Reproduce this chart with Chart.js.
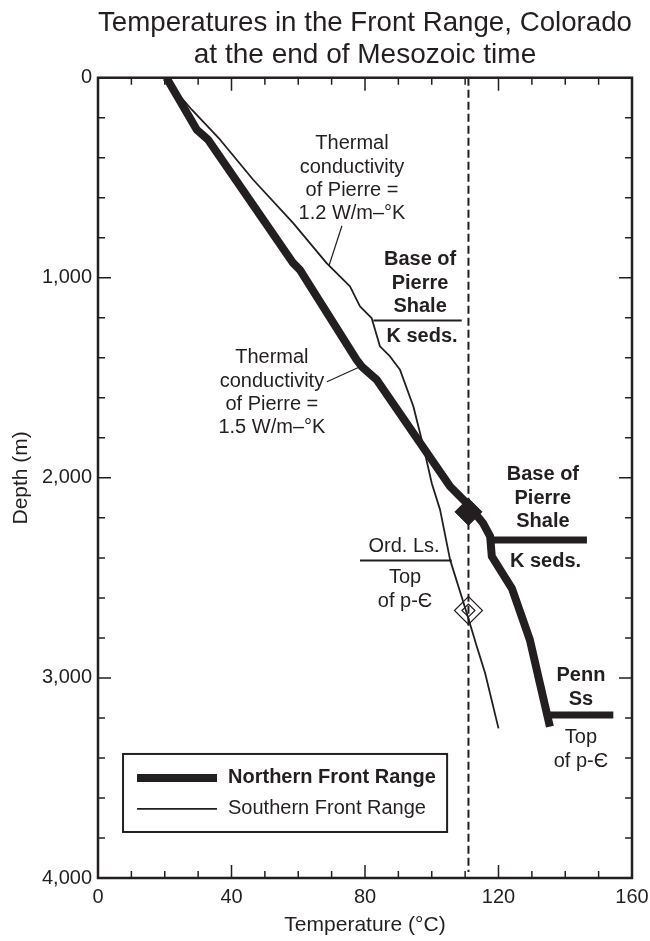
<!DOCTYPE html>
<html>
<head>
<meta charset="utf-8">
<title>Temperatures in the Front Range, Colorado</title>
<script src="https://cdn.jsdelivr.net/npm/chart.js@4.4.1/dist/chart.umd.min.js"></script>
<style>
  html, body { margin: 0; padding: 0; background: #fff; }
</style>
</head>
<body>
<canvas id="grafico" width="650" height="941"></canvas>
<script>
// temperature (°C) against depth (m) for both profiles
const northTemp  = [20.5, 29.6, 33, 58.5, 60.5, 77.5, 79, 83.5, 105.5, 110.5, 115.4, 117.5, 118, 124, 129.4, 132.4, 135.4];
const northDepth = [0, 260, 310, 927, 960, 1410, 1443, 1510, 2043, 2127, 2227, 2293, 2393, 2552, 2810, 3027, 3243];
const southTemp  = [20.5, 25, 28.1, 36.6, 46.5, 58.5, 68.5, 75.5, 78.5, 82, 84.5, 87.5, 90.5, 94.5, 97.5, 100, 102.5, 105.5, 110.5, 113.5, 116, 120];
const southDepth = [0, 100, 160, 310, 510, 727, 927, 1043, 1143, 1202, 1343, 1393, 1460, 1643, 1843, 2027, 2160, 2410, 2677, 2843, 2977, 3252];

// formation contacts: [depth, temp from, temp to]
const northShaleBase = [2310, 117, 146.5];
const northPennTop   = [3185, 135.4, 154.4];
const southShaleBase = [1213, 82.5, 109];
const southOrdBase   = [2413, 78.5, 106];

// isotherm and the two markers on it
const isotherm = 111;
const filledMarkerDepth = 2170;
const openMarkerDepth = 2663;

const xLabelled = [0, 40, 80, 120, 160];
const yLabelled = [0, 1000, 2000, 3000, 4000];

const FONTE = '"Liberation Sans", Arial, Helvetica, sans-serif';
const TINTA = '#231f20';

const pontos = (ts, ds) => ts.map((t, i) => ({ x: t, y: ds[i] }));
const contato = c => [{ x: c[1], y: c[0] }, { x: c[2], y: c[0] }];

// text notes, placed in data units (first line centre)
const notas = [
  { linhas: ['Thermal', 'conductivity', 'of Pierre =', '1.2 W/m\u2013°K'], t: 76.1, d: 330, negrito: false },
  { linhas: ['Thermal', 'conductivity', 'of Pierre =', '1.5 W/m\u2013°K'], t: 52.1, d: 1400, negrito: false },
  { linhas: ['Base of', 'Pierre', 'Shale'], t: 96.5, d: 910, negrito: true },
  { linhas: ['K seds.'], t: 97.1, d: 1295, negrito: true },
  { linhas: ['Base of', 'Pierre', 'Shale'], t: 133.3, d: 1985, negrito: true },
  { linhas: ['K seds.'], t: 134.1, d: 2420, negrito: true },
  { linhas: ['Ord. Ls.'], t: 91.7, d: 2345, negrito: false },
  { linhas: ['Top', 'of p-\u0404'], t: 92, d: 2500, negrito: false },
  { linhas: ['Penn', 'Ss'], t: 144.7, d: 2990, negrito: true },
  { linhas: ['Top', 'of p-\u0404'], t: 144.7, d: 3300, negrito: false }
];

// leader lines from the conductivity notes to the curves
const leader12 = [{ x: 73.1, y: 740 }, { x: 69.2, y: 940 }];
const leader15 = [{ x: 68.6, y: 1520 }, { x: 78.5, y: 1445 }];

const linha = (data, largura, extra) => Object.assign({
  type: 'scatter', data, showLine: true, borderColor: TINTA, borderWidth: largura,
  pointRadius: 0, borderJoinStyle: 'round', tension: 0
}, extra || {});

const datasets = [
  { type: 'scatter', data: [{ x: isotherm, y: filledMarkerDepth }], pointStyle: 'rectRot',
    pointRadius: 13.5, backgroundColor: TINTA, borderColor: TINTA, borderWidth: 1 },
  { type: 'scatter', data: [{ x: isotherm, y: openMarkerDepth }, { x: isotherm, y: openMarkerDepth }],
    pointStyle: 'rectRot', pointRadius: [14, 6.5], backgroundColor: 'rgba(0,0,0,0)',
    borderColor: TINTA, borderWidth: 1.2 },
  linha(pontos(northTemp, northDepth), 8, { label: 'Northern Front Range' }),
  linha(pontos(southTemp, southDepth), 1.8, { label: 'Southern Front Range' }),
  linha(contato(northShaleBase), 7),
  linha(contato(northPennTop), 7),
  linha(contato(southShaleBase), 2),
  linha(contato(southOrdBase), 2),
  linha(leader12, 1.2),
  linha(leader15, 1.2),
  linha([{ x: isotherm, y: 0 }, { x: isotherm, y: 3970 }], 2, { borderDash: [8, 4] })
];

// frame, inward ticks on all four sides, notes and the boxed key
const molduraPlugin = {
  id: 'moldura',
  afterDatasetsDraw(chart) {
    const { ctx, chartArea: a, scales: { x, y } } = chart;
    ctx.save();
    ctx.strokeStyle = TINTA;
    ctx.lineWidth = 1.5;
    ctx.beginPath();
    x.ticks.forEach(t => {
      const px = x.getPixelForValue(t.value);
      const len = xLabelled.includes(t.value) ? 13 : 7;
      ctx.moveTo(px, a.bottom); ctx.lineTo(px, a.bottom - len);
      ctx.moveTo(px, a.top); ctx.lineTo(px, a.top + len);
    });
    y.ticks.forEach(t => {
      const py = y.getPixelForValue(t.value);
      const len = yLabelled.includes(t.value) ? 13 : 7;
      ctx.moveTo(a.left, py); ctx.lineTo(a.left + len, py);
      ctx.moveTo(a.right, py); ctx.lineTo(a.right - len, py);
    });
    ctx.stroke();
    ctx.lineWidth = 2.5;
    ctx.strokeRect(a.left, a.top, a.width, a.height);

    // notes
    ctx.fillStyle = TINTA;
    ctx.textAlign = 'center';
    ctx.textBaseline = 'middle';
    notas.forEach(n => {
      ctx.font = (n.negrito ? 'bold ' : '') + '20px ' + FONTE;
      const px = x.getPixelForValue(n.t);
      const py = y.getPixelForValue(n.d);
      n.linhas.forEach((l, i) => ctx.fillText(l, px, py + i * 23.3));
    });

    // key box
    const bx0 = x.getPixelForValue(7.5), bx1 = x.getPixelForValue(104.6);
    const by0 = y.getPixelForValue(3380), by1 = y.getPixelForValue(3770);
    ctx.fillStyle = '#fff';
    ctx.fillRect(bx0, by0, bx1 - bx0, by1 - by0);
    ctx.lineWidth = 2;
    ctx.strokeRect(bx0, by0, bx1 - bx0, by1 - by0);
    const itens = [chart.data.datasets[2], chart.data.datasets[3]];
    itens.forEach((ds, i) => {
      const ly = by0 + 24 + i * 31;
      ctx.lineWidth = ds.borderWidth;
      ctx.beginPath();
      ctx.moveTo(bx0 + 14, ly); ctx.lineTo(bx0 + 94, ly);
      ctx.stroke();
      ctx.fillStyle = TINTA;
      ctx.textAlign = 'left';
      ctx.font = (i === 0 ? 'bold ' : '') + '20px ' + FONTE;
      ctx.fillText(ds.label, bx0 + 105, ly);
    });
    ctx.restore();
  }
};

new Chart(document.getElementById('grafico'), {
  type: 'scatter',
  data: { datasets },
  options: {
    responsive: false,
    animation: false,
    events: [],
    layout: { padding: { left: 0, right: 18, top: 0, bottom: 0 } },
    plugins: {
      legend: { display: false },
      tooltip: { enabled: false },
      title: {
        display: true,
        fullSize: false,
        text: ['Temperatures in the Front Range, Colorado', 'at the end of Mesozoic time'],
        color: TINTA,
        font: { family: FONTE, size: 28, weight: 'normal', lineHeight: 1.12 },
        padding: { top: 8, bottom: 7 }
      }
    },
    scales: {
      x: {
        type: 'linear', min: 0, max: 160,
        border: { display: false },
        grid: { display: false, drawTicks: false },
        ticks: {
          stepSize: 10, autoSkip: false, maxRotation: 0, padding: 7, color: TINTA,
          font: { family: FONTE, size: 20 },
          callback: v => xLabelled.includes(v) ? String(v) : ''
        },
        title: {
          display: true, text: 'Temperature (°C)', color: TINTA,
          font: { family: FONTE, size: 21 }, padding: { top: 0, bottom: 3 }
        },
        afterFit: s => { s.height = 63; s.paddingLeft = 0; s.paddingRight = 0; }
      },
      y: {
        type: 'linear', min: 0, max: 4000, reverse: true,
        border: { display: false },
        grid: { display: false, drawTicks: false },
        ticks: {
          stepSize: 200, autoSkip: false, padding: 6, color: TINTA,
          font: { family: FONTE, size: 20 },
          callback: v => yLabelled.includes(v) ? v.toLocaleString('en-US') : ''
        },
        title: {
          display: true, text: 'Depth (m)', color: TINTA,
          font: { family: FONTE, size: 21 }, padding: { top: 9, bottom: 0 }
        },
        afterFit: s => { s.width = 98; }
      }
    }
  },
  plugins: [molduraPlugin]
});
</script>
</body>
</html>
